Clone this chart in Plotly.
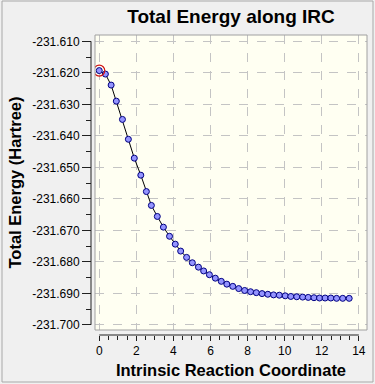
import plotly.graph_objects as go

irc = [0.00, 0.33, 0.64, 0.92, 1.25, 1.57, 1.89, 2.24, 2.54, 2.81, 3.13, 3.46, 3.79, 4.10,
       4.39, 4.71, 5.02, 5.35, 5.63, 5.94, 6.26, 6.58, 6.88, 7.20, 7.52, 7.84, 8.16, 8.47,
       8.78, 9.09, 9.40, 9.71, 10.03, 10.33, 10.65, 10.97, 11.27, 11.58, 11.88, 12.18,
       12.49, 12.80, 13.13, 13.48]
energy = [-231.6193, -231.6204, -231.6239, -231.6290, -231.6348, -231.6411, -231.6471,
          -231.6525, -231.6577, -231.6621, -231.6656, -231.6690, -231.6719, -231.6744,
          -231.6766, -231.6786, -231.6803, -231.6817, -231.6829, -231.6841, -231.6852,
          -231.6862, -231.6871, -231.6878, -231.6885, -231.6891, -231.6895, -231.6898,
          -231.6901, -231.6903, -231.6905, -231.6906, -231.6908, -231.6910, -231.6911,
          -231.6912, -231.6913, -231.6914, -231.6915, -231.6915, -231.6915, -231.6916,
          -231.6916, -231.6916]
highlight_index = 0

x_tickvals = [0, 2, 4, 6, 8, 10, 12, 14]
x_ticktext = ["0", "2", "4", "6", "8", "10", "12", "14"]
y_tickvals = [-231.610, -231.620, -231.630, -231.640, -231.650,
              -231.660, -231.670, -231.680, -231.690, -231.700]
y_ticktext = ["-231.610", "-231.620", "-231.630", "-231.640", "-231.650",
              "-231.660", "-231.670", "-231.680", "-231.690", "-231.700"]

title = "Total Energy along IRC"
x_title = "Intrinsic Reaction Coordinate"
y_title = "Total Energy (Hartree)"

font = "Liberation Sans, Arial, sans-serif"

fig = go.Figure()
fig.add_trace(go.Scatter(
    x=irc, y=energy, mode="lines+markers",
    line=dict(color="black", width=1),
    marker=dict(size=6, color="#9494ff", line=dict(color="#000080", width=1)),
    showlegend=False, hoverinfo="skip"))
fig.add_trace(go.Scatter(
    x=[irc[highlight_index]], y=[energy[highlight_index]], mode="markers",
    marker=dict(size=11, symbol="circle-open", color="#d01010", line=dict(width=1.2)),
    showlegend=False, hoverinfo="skip"))

W, H = 375, 384
ml, mr, mt, mb = 91, 8, 35, 49
pw, ph = W - ml - mr, H - mt - mb

fig.update_layout(
    width=W, height=H,
    margin=dict(l=ml, r=mr, t=mt, b=mb, pad=0, autoexpand=False),
    paper_bgcolor="#f0f0f0", plot_bgcolor="#fffff2",
    font=dict(family=font, size=12, color="black"),
    title=dict(text="<b>" + title + "</b>", font=dict(size=19, color="black"),
               x=231 / W, xanchor="center", y=1 - 16 / H, yanchor="middle"),
    xaxis=dict(domain=[4 / pw, 1], range=[-0.23, 14.44], anchor="free", position=0,
               automargin=False,
               tickmode="array", tickvals=x_tickvals, ticktext=x_ticktext,
               ticks="outside", ticklen=5, tickcolor="#202020",
               showline=False, zeroline=False,
               showgrid=True, gridcolor="#c4c4c4", griddash="dash", gridwidth=1,
               minor=dict(dtick=0.5, tick0=0, ticks="outside", ticklen=4,
                          tickcolor="#202020", showgrid=False),
               title=dict(text="<b>" + x_title + "</b>", font=dict(size=16.5), standoff=7),
               tickfont=dict(size=12)),
    yaxis=dict(domain=[5 / ph, 1], range=[-231.70165, -231.6080], anchor="free", position=0,
               automargin=False,
               tickmode="array", tickvals=y_tickvals, ticktext=y_ticktext,
               ticks="outside", ticklen=9, tickcolor="#202020",
               showline=False, zeroline=False,
               showgrid=True, gridcolor="#c4c4c4", griddash="dash", gridwidth=1,
               minor=dict(dtick=0.005, tick0=-231.70, ticks="outside", ticklen=5,
                          tickcolor="#202020", showgrid=False),
               title=dict(text="<b>" + y_title + "</b>", font=dict(size=16.5), standoff=5),
               tickfont=dict(size=12)),
)

# plot area border
fig.add_shape(type="rect", xref="x domain", yref="y domain", x0=0, x1=1, y0=0, y1=1,
              line=dict(color="#a0a0a0", width=1), layer="above")
# detached axis lines
fig.add_shape(type="line", xref="paper", yref="y", x0=0, x1=0, y0=-231.70, y1=-231.61,
              line=dict(color="#202020", width=1))
fig.add_shape(type="line", xref="x", yref="paper", x0=0, x1=14, y0=0, y1=0,
              line=dict(color="#202020", width=1))
# outer window frame
fig.add_shape(type="rect", xref="paper", yref="paper",
              x0=(2 - ml) / pw, x1=(373 - ml) / pw, y0=(335 - 382) / ph, y1=(335 - 1) / ph,
              line=dict(color="#a8a8a8", width=1))

fig.write_html("out.html", config={"displayModeBar": False, "staticPlot": True},
               post_script="document.body.style.margin='0';document.body.style.overflow='hidden';")
